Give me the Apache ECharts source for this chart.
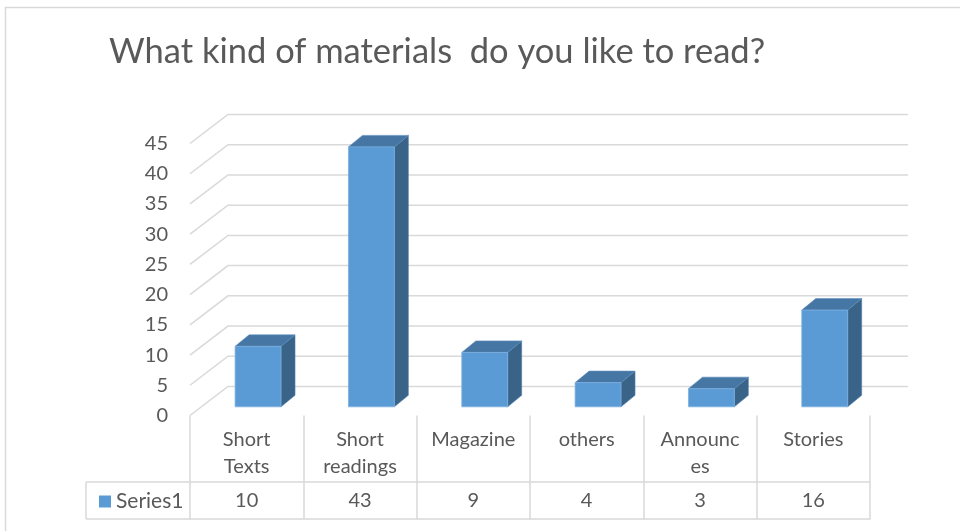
<!DOCTYPE html>
<html>
<head>
<meta charset="utf-8">
<script src="https://cdn.jsdelivr.net/npm/echarts@6/dist/echarts.min.js"></script>
<style>
html,body{margin:0;padding:0;background:#fff;}
#chart{width:960px;height:531px;}
</style>
</head>
<body>
<div id="chart"></div>
<script>
// ---- data ----
const categories = ['Short Texts', 'Short readings', 'Magazine', 'others', 'Announces', 'Stories'];
const categoryLabels = ['Short\nTexts', 'Short\nreadings', 'Magazine', 'others', 'Announc\nes', 'Stories'];
const seriesName = 'Series1';
const values = [10, 43, 9, 4, 3, 16];
const yTicks = [0, 5, 10, 15, 20, 25, 30, 35, 40, 45];

// ---- style constants ----
const FONT = 'Lato, "Noto Sans", sans-serif';
const TXT = '#595959';
const GRID = '#d9d9d9';
const DX = 38, DY = -29;          // depth of the 3D floor/wall
const BAR_F = 0.30;               // depth position of bar front face
const BAR_DX = 14, BAR_DY = -11.5; // bar depth
const TABLE_ROW_Y = 500.5;

const chart = echarts.init(document.getElementById('chart'));

function wallItem(params, api) {
  const cs = params.coordSys;
  const v = api.value(0);
  const y = api.coord([0, v])[1];
  const x0 = cs.x;
  const x1 = cs.x + cs.width;
  return {
    type: 'polyline',
    shape: { points: [[x0, y], [x0 + DX, y + DY], [x1 + DX, y + DY]] },
    style: { stroke: GRID, lineWidth: 1.5, fill: null },
    silent: true
  };
}

function barItem(params, api) {
  const i = api.value(0);
  const v = api.value(1);
  const base = api.coord([i, 0]);
  const top = api.coord([i, v]);
  const band = api.size([1, 0])[0];
  const w = band * 0.405;
  const ox = DX * BAR_F, oy = DY * BAR_F;
  const l = base[0] + ox - w / 2;
  const r = l + w;
  const yb = base[1] + oy;
  const yt = top[1] + oy;
  return {
    type: 'group',
    children: [
      { type: 'polygon', shape: { points: [[r, yt], [r + BAR_DX, yt + BAR_DY], [r + BAR_DX, yb + BAR_DY], [r, yb]] },
        style: { fill: '#3a6388', stroke: '#4f80ad', lineWidth: 0.6 } },
      { type: 'polygon', shape: { points: [[l, yt], [l + BAR_DX, yt + BAR_DY], [r + BAR_DX, yt + BAR_DY], [r, yt]] },
        style: { fill: '#4676a4', stroke: '#5a8dbd', lineWidth: 0.6 } },
      { type: 'rect', shape: { x: l, y: yt, width: w, height: yb - yt },
        style: { fill: '#5b9bd5', stroke: '#7cb0e0', lineWidth: 0.8 } }
    ]
  };
}

function tableItem(params, api) {
  const i = api.value(0);
  const x = api.coord([i, 0])[0];
  return {
    type: 'text',
    x: x, y: TABLE_ROW_Y,
    style: { text: String(api.value(1)), font: '20px ' + FONT, fill: TXT, align: 'center', verticalAlign: 'middle' }
  };
}

const option = {
  backgroundColor: '#fff',
  animation: false,
  title: {
    text: 'What kind of materials  do you like to read?',
    left: 104, top: 29,
    textStyle: { fontFamily: FONT, fontSize: 34.5, fontWeight: 'normal', color: TXT }
  },
  legend: {
    data: [{ name: seriesName, icon: 'rect' }],
    left: 94, top: 486,
    itemWidth: 12, itemHeight: 12, itemGap: 6,
    textStyle: { fontFamily: FONT, fontSize: 21, color: TXT, padding: [0, 0, 0, 0] },
    selectedMode: false
  },
  grid: { left: 190, right: 90, top: 143.5, bottom: 115.5 },
  xAxis: {
    type: 'category',
    data: categories,
    boundaryGap: true,
    axisLine: { show: false },
    axisTick: { show: true, alignWithLabel: false, length: 104, lineStyle: { color: GRID, width: 1.5 } },
    axisLabel: {
      margin: 11,
      fontFamily: FONT, fontSize: 20, color: TXT, lineHeight: 27,
      formatter: function (val, idx) { return categoryLabels[idx]; }
    },
    splitLine: { show: false }
  },
  yAxis: {
    type: 'value',
    min: 0, max: 45, interval: 5,
    axisLine: { show: false },
    axisTick: { show: false },
    splitLine: { show: false },
    axisLabel: { margin: 22, fontFamily: FONT, fontSize: 20, color: TXT }
  },
  graphic: [
    { type: 'rect', shape: { x: 5.5, y: 7.5, width: 1200, height: 800 }, style: { fill: null, stroke: GRID, lineWidth: 1.5 }, silent: true, z: -10 },
    { type: 'line', shape: { x1: 86, y1: 482, x2: 870, y2: 482 }, style: { stroke: GRID, lineWidth: 1.5 }, silent: true },
    { type: 'line', shape: { x1: 86, y1: 519, x2: 870, y2: 519 }, style: { stroke: GRID, lineWidth: 1.5 }, silent: true },
    { type: 'line', shape: { x1: 86, y1: 482, x2: 86, y2: 519 }, style: { stroke: GRID, lineWidth: 1.5 }, silent: true }
  ],
  series: [
    { type: 'custom', name: 'walls', renderItem: wallItem, data: yTicks.map(v => [v]), encode: { y: 0 }, z: 1, silent: true, clip: false, legendHoverLink: false },
    { type: 'custom', name: seriesName, renderItem: barItem, data: values.map((v, i) => [i, v]), encode: { x: 0, y: 1 }, z: 2, itemStyle: { color: '#5b9bd5' }, clip: false },
    { type: 'custom', name: 'table', renderItem: tableItem, data: values.map((v, i) => [i, v]), encode: { x: 0, y: 1 }, z: 3, silent: true, clip: false }
  ]
};
chart.setOption(option);
</script>
</body>
</html>
